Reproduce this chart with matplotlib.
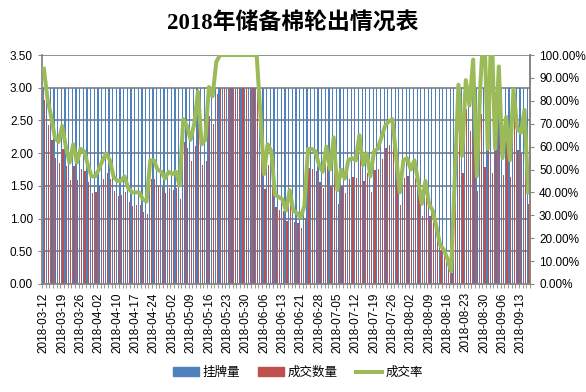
import numpy as np
import pandas as pd
import matplotlib
matplotlib.use('Agg')
import matplotlib.pyplot as plt
from matplotlib.patches import Patch
from matplotlib.lines import Line2D
from matplotlib.ticker import FuncFormatter

plt.rcParams['font.family'] = ['Liberation Sans', 'Noto Sans CJK SC']

# trading days of the auction (holidays skipped, weekend make-up days added)
holidays = ['2018-04-05', '2018-04-06', '2018-04-30', '2018-05-01', '2018-06-18']
makeup = pd.to_datetime(['2018-04-08', '2018-04-28'])
dates = pd.bdate_range('2018-03-12', '2018-09-17', freq='C', holidays=holidays).union(makeup)
labels = [d.strftime('%Y-%m-%d') for d in dates]

# 挂牌量 (万吨)
listing = [3.0] * len(dates)

# 成交数量 (万吨)
volume = [
    2.81, 2.43, 2.20, 1.93, 1.85, 2.07, 1.80, 1.59, 1.80, 1.59,
    1.76, 1.73, 1.56, 1.39, 1.41, 1.50, 1.61, 1.69, 1.61, 1.42,
    1.35, 1.36, 1.41, 1.25, 1.19, 1.21, 1.21, 1.10, 1.07, 1.61,
    1.61, 1.50, 1.48, 1.39, 1.47, 1.44, 1.47, 1.30, 2.17, 2.08,
    1.88, 2.11, 2.51, 1.82, 1.88, 2.57, 2.45, 2.91, 3.00, 3.00,
    3.00, 3.00, 3.00, 3.00, 3.00, 3.00, 3.00, 3.00, 3.00, 2.26,
    1.45, 1.82, 1.74, 1.18, 1.13, 1.12, 0.96, 1.22, 0.95, 0.93,
    0.86, 1.01, 1.77, 1.76, 1.73, 1.56, 1.47, 1.80, 1.50, 1.92,
    1.22, 1.50, 1.39, 1.61, 1.64, 1.62, 1.94, 1.57, 1.70, 1.41,
    1.74, 1.76, 1.91, 2.08, 2.13, 2.17, 1.68, 1.21, 1.62, 1.65,
    1.50, 1.62, 1.36, 1.04, 1.35, 1.04, 0.95, 0.75, 0.52, 0.46,
    0.35, 0.17, 1.38, 2.56, 1.70, 2.67, 2.34, 2.94, 1.42, 2.60,
    1.79, 2.61, 1.70, 2.33, 2.85, 1.67, 2.18, 1.63, 2.57, 2.05,
    2.00, 2.28, 1.22,
]

# 成交率 (%)
rate = [
    94, 81, 73, 64, 62, 69, 60, 53, 61, 53,
    59, 58, 52, 47, 47, 50, 54, 57, 54, 47,
    45, 45, 47, 42, 40, 40, 40, 37, 36, 54,
    54, 50, 49, 46, 49, 48, 49, 43, 72, 69,
    63, 70, 84, 61, 63, 86, 82, 97, 100, 100,
    100, 100, 100, 100, 100, 100, 100, 100, 100, 75,
    48, 61, 58, 39, 38, 37, 32, 41, 32, 31,
    29, 34, 59, 59, 58, 52, 49, 60, 50, 64,
    41, 50, 46, 54, 55, 54, 65, 52, 57, 47,
    58, 59, 64, 69, 71, 72, 56, 40, 54, 55,
    50, 54, 45, 35, 45, 35, 32, 25, 17, 15,
    11, 5.5, 46, 87, 56, 89, 78, 98, 47, 88,
    115, 59, 115, 59, 95, 55, 73, 54, 85, 68,
    66, 76, 40,
]

n = len(dates)
x = np.arange(n)
grid_c = '#868686'

fig = plt.figure(figsize=(5.86, 3.92), dpi=100)
ax = fig.add_axes([42 / 586, 1 - 284 / 392, 488 / 586, 229 / 392])

ax.bar(x - 0.25, listing, width=0.34, color='#4F81BD', zorder=2)
ax.bar(x + 0.25, volume, width=0.34, color='#C0504D', zorder=2)
ax.set_xlim(-0.5, n - 0.5)
ax.set_ylim(0, 3.5)
ax.set_yticks(np.arange(0, 3.51, 0.5))
ax.yaxis.set_major_formatter(FuncFormatter(lambda v, p: '%.2f' % v))
ax.yaxis.grid(True, color=grid_c, lw=1.3)
ax.set_axisbelow(True)

ax.set_xticks(x[::5])
ax.set_xticklabels(labels[::5], rotation=90, fontsize=8.5)
ax.set_xticks(np.arange(-0.5, n, 1), minor=True)
ax.tick_params(axis='x', which='major', length=0, pad=6)
ax.tick_params(axis='x', which='minor', length=3, color=grid_c)
ax.tick_params(axis='y', length=3, color=grid_c, labelsize=8.5)

ax.spines['top'].set_visible(False)
for s in ['left', 'right', 'bottom']:
    ax.spines[s].set_color(grid_c)
    ax.spines[s].set_linewidth(1.3)

ax2 = ax.twinx()
ax2.plot(x, np.array(rate) / 100, color='#9BBB59', lw=2.9, solid_joinstyle='round')
ax2.set_ylim(0, 1.0)
ax2.set_yticks(np.arange(0, 1.01, 0.1))
ax2.yaxis.set_major_formatter(FuncFormatter(lambda v, p: '{:.2f}%'.format(v * 100)))
ax2.tick_params(axis='y', length=3, color=grid_c, labelsize=8.5)
for s in ['top', 'left', 'bottom']:
    ax2.spines[s].set_visible(False)
ax2.spines['right'].set_color(grid_c)
ax2.spines['right'].set_linewidth(1.3)

fig.text(0.5, 1 - 23 / 392, '2018年储备棉轮出情况表', ha='center', va='center',
         fontsize=16.5, fontweight='bold', family=['Liberation Serif', 'Noto Sans CJK SC'])

handles = [Patch(color='#4F81BD', label='挂牌量'),
           Patch(color='#C0504D', label='成交数量'),
           Line2D([], [], color='#9BBB59', lw=2.9, label='成交率')]
fig.legend(handles=handles, loc='center', bbox_to_anchor=(298 / 586, 1 - 373 / 392), ncol=3,
           frameon=False, fontsize=9, handlelength=2.1, handleheight=0.7, columnspacing=1.4,
           handletextpad=0.3)

fig.savefig('out.png', dpi=100)
